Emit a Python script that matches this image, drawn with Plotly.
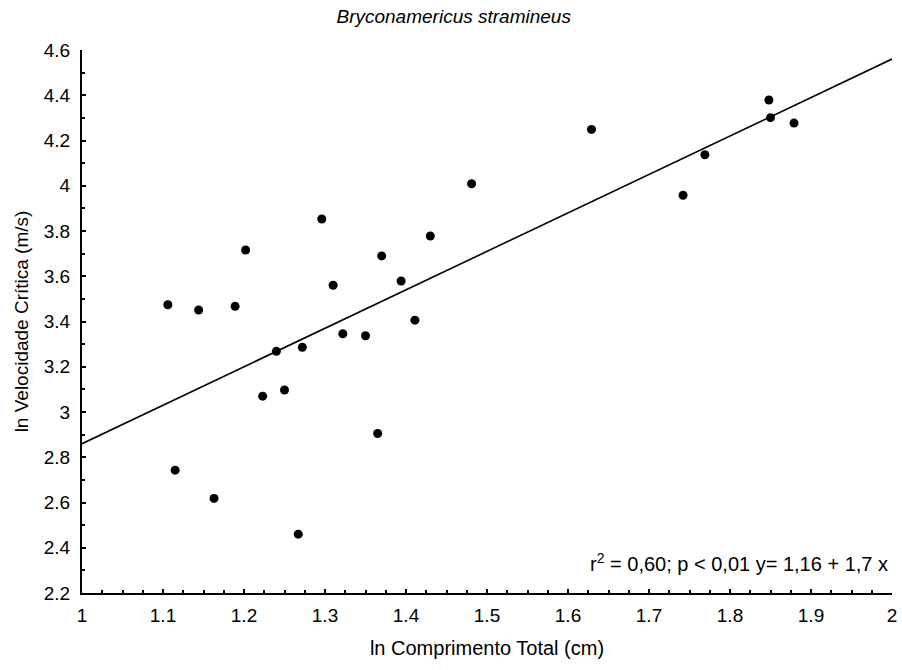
import plotly.graph_objects as go

# ln total length (cm) and ln critical swimming speed (m/s)
ln_length = [1.106, 1.115, 1.144, 1.163, 1.189, 1.202, 1.223, 1.240, 1.250,
             1.267, 1.272, 1.296, 1.310, 1.322, 1.350, 1.365, 1.370, 1.394,
             1.411, 1.430, 1.481, 1.629, 1.742, 1.769, 1.848, 1.850, 1.879]
ln_speed = [3.474, 2.743, 3.451, 2.618, 3.467, 3.716, 3.070, 3.268, 3.097,
            2.460, 3.286, 3.853, 3.560, 3.346, 3.337, 2.905, 3.690, 3.579,
            3.406, 3.778, 4.009, 4.249, 3.958, 4.137, 4.379, 4.301, 4.277]

# fitted regression: y = 1.16 + 1.7 x
intercept = 1.16
slope = 1.7
fit_x = [1.0, 2.0]
fit_y = [intercept + slope * v for v in fit_x]

x_ticks = [1, 1.1, 1.2, 1.3, 1.4, 1.5, 1.6, 1.7, 1.8, 1.9, 2]
x_tick_text = ["1", "1.1", "1.2", "1.3", "1.4", "1.5", "1.6", "1.7", "1.8", "1.9", "2"]
y_ticks = [2.2, 2.4, 2.6, 2.8, 3, 3.2, 3.4, 3.6, 3.8, 4, 4.2, 4.4, 4.6]
y_tick_text = ["2.2", "2.4", "2.6", "2.8", "3", "3.2", "3.4", "3.6", "3.8", "4", "4.2", "4.4", "4.6"]

FONT = "Liberation Sans, Arial, sans-serif"
FS = 19

fig = go.Figure()
fig.add_trace(go.Scatter(x=fit_x, y=fit_y, mode="lines",
                         line=dict(color="black", width=1.6),
                         showlegend=False, hoverinfo="skip"))
fig.add_trace(go.Scatter(x=ln_length, y=ln_speed, mode="markers",
                         marker=dict(color="black", size=9),
                         showlegend=False, cliponaxis=False))

axis_common = dict(
    showline=True, linecolor="black", linewidth=2,
    ticks="inside", ticklen=4, tickwidth=2, tickcolor="black",
    showgrid=False, zeroline=False, mirror=False, automargin=False,
    tickfont=dict(family=FONT, size=FS, color="black"),
)

fig.update_xaxes(
    range=[1, 2], tickmode="array", tickvals=x_ticks, ticktext=x_tick_text,
    minor=dict(dtick=0.025, tick0=1, ticks="inside", ticklen=3, tickwidth=1.5,
               tickcolor="black", showgrid=False),
    title=dict(text="ln Comprimento Total (cm)",
               font=dict(family=FONT, size=FS + 1, color="black"), standoff=16),
    ticklabelstandoff=4,
    **axis_common,
)
fig.update_yaxes(
    range=[2.2, 4.6], tickmode="array", tickvals=y_ticks, ticktext=y_tick_text,
    minor=dict(dtick=0.1, tick0=2.2, ticks="inside", ticklen=3, tickwidth=1.5,
               tickcolor="black", showgrid=False),
    title=dict(text="ln Velocidade Crítica (m/s)",
               font=dict(family=FONT, size=FS, color="black"), standoff=10),
    ticklabelstandoff=6,
    **axis_common,
)

fig.add_annotation(
    x=2, y=2.335, xref="x", yref="y", xanchor="right", yanchor="middle",
    xshift=-2,
    text="r<sup>2</sup> = 0,60; p < 0,01 y= 1,16 + 1,7 x", showarrow=False,
    font=dict(family=FONT, size=FS + 1, color="black"),
)

fig.update_layout(
    width=902, height=670,
    margin=dict(l=82, r=10, t=50, b=77),
    paper_bgcolor="white", plot_bgcolor="white",
    title=dict(text="<i>Bryconamericus stramineus</i>", x=0.503, xanchor="center",
               y=0.975, yanchor="middle",
               font=dict(family=FONT, size=FS, color="black")),
)

fig.write_html("out.html")
